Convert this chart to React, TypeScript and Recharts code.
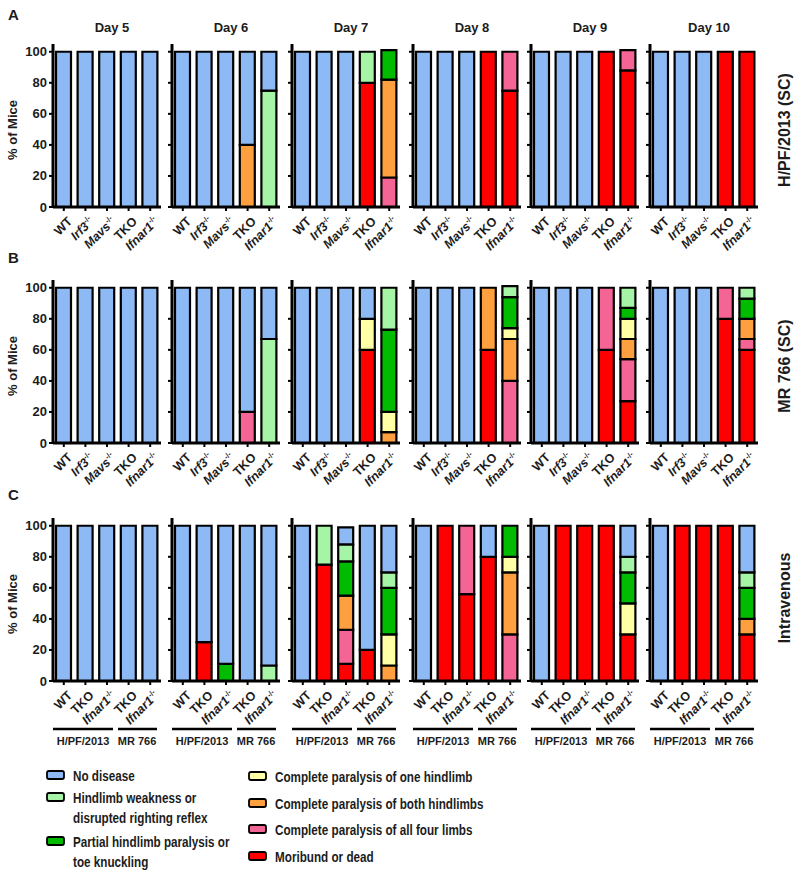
import { Bar, BarChart, XAxis, YAxis } from "recharts"

// stacked bottom -> top
const stageKeys = ["dead", "allFour", "bothHind", "oneHind", "partial", "weak", "none"]
const stageColors = ["#FF0000", "#F46494", "#FFA040", "#FFFFA6", "#00BB00", "#A6F5A6", "#8DB9F5"]

const days = ["Day 5", "Day 6", "Day 7", "Day 8", "Day 9", "Day 10"]
const rowNames = ["H/PF/2013 (SC)", "MR 766 (SC)", "Intravenous"]
const yTicks = [0, 20, 40, 60, 80, 100]

const scLabels = ["WT", "Irf3", "Mavs", "TKO", "Ifnar1"]
const scKnockout = [false, true, true, false, true]
const ivLabels = ["WT", "TKO", "Ifnar1", "TKO", "Ifnar1"]
const ivKnockout = [false, false, true, false, true]
const ivGroups = ["H/PF/2013", "MR 766"]

// each bar: [dead, allFour, bothHind, oneHind, partial, weak, none]
const ND = [0, 0, 0, 0, 0, 0, 100]
const DEAD = [100, 0, 0, 0, 0, 0, 0]

const hpfSC = [
    [ND, ND, ND, ND, ND],
    [ND, ND, ND, [0, 0, 40, 0, 0, 0, 60], [0, 0, 0, 0, 0, 75, 25]],
    [ND, ND, ND, [80, 0, 0, 0, 0, 20, 0], [0, 19, 63, 0, 19, 0, 0]],
    [ND, ND, ND, DEAD, [75, 25, 0, 0, 0, 0, 0]],
    [ND, ND, ND, DEAD, [88, 13, 0, 0, 0, 0, 0]],
    [ND, ND, ND, DEAD, DEAD],
]

const mrSC = [
    [ND, ND, ND, ND, ND],
    [ND, ND, ND, [0, 20, 0, 0, 0, 0, 80], [0, 0, 0, 0, 0, 67, 33]],
    [ND, ND, ND, [60, 0, 0, 20, 0, 0, 20], [0, 0, 7, 13, 53, 27, 0]],
    [ND, ND, ND, [60, 0, 40, 0, 0, 0, 0], [0, 40, 27, 7, 20, 7, 0]],
    [ND, ND, ND, [60, 40, 0, 0, 0, 0, 0], [27, 27, 13, 13, 7, 13, 0]],
    [ND, ND, ND, [80, 20, 0, 0, 0, 0, 0], [60, 7, 13, 0, 13, 7, 0]],
]

const intravenous = [
    [ND, ND, ND, ND, ND],
    [ND, [25, 0, 0, 0, 0, 0, 75], [0, 0, 0, 0, 11, 0, 89], ND, [0, 0, 0, 0, 0, 10, 90]],
    [ND, [75, 0, 0, 0, 0, 25, 0], [11, 22, 22, 0, 22, 11, 11], [20, 0, 0, 0, 0, 0, 80], [0, 0, 10, 20, 30, 10, 30]],
    [ND, DEAD, [56, 44, 0, 0, 0, 0, 0], [80, 0, 0, 0, 0, 0, 20], [0, 30, 40, 10, 20, 0, 0]],
    [ND, DEAD, DEAD, DEAD, [30, 0, 0, 20, 20, 10, 20]],
    [ND, DEAD, DEAD, DEAD, [30, 0, 10, 0, 20, 10, 30]],
]

const legendLeft = [
    { color: 6, lines: ["No disease"] },
    { color: 5, lines: ["Hindlimb weakness or", "disrupted righting reflex"] },
    { color: 4, lines: ["Partial hindlimb paralysis or", "toe knuckling"] },
]
const legendRight = [
    { color: 3, lines: ["Complete paralysis of one hindlimb"] },
    { color: 2, lines: ["Complete paralysis of both hindlimbs"] },
    { color: 1, lines: ["Complete paralysis of all four limbs"] },
    { color: 0, lines: ["Moribund or dead"] },
]

const FONT = "'Liberation Sans', Arial, Helvetica, sans-serif"
const TEXT = "#1c1c1c"
const PANEL_X = [53, 172, 292, 413, 531, 650]
const ROW_TOP = [40, 276, 514]
const YW = 40
const PW = 108
const PH = 163
const XH = 50

function XTick(props: any) {
    const { x, y, payload, labels, knockout } = props
    const i = Number(payload.value)
    return (
        <g>
            <text x={x} y={y} dy={13} textAnchor="end" transform={`rotate(-45 ${x} ${y})`}
                fontFamily={FONT} fontSize={12.5} fontWeight="bold" fill={TEXT}>
                <tspan fontStyle={knockout[i] ? "italic" : "normal"}>{labels[i]}</tspan>
                {knockout[i] && <tspan fontSize={7.5} dy={-5}>-/-</tspan>}
            </text>
        </g>
    )
}

function YTick(props: any) {
    const { x, y, payload, show } = props
    if (!show) return <g />
    return (
        <text x={x} y={y} dy={4.5} textAnchor="end" fontFamily={FONT} fontSize={13} fontWeight="bold" fill={TEXT}>
            {payload.value}
        </text>
    )
}

type PanelProps = {
    bars: number[][]
    labels: string[]
    knockout: boolean[]
    showY: boolean
    left: number
    top: number
}

function Panel({ bars, labels, knockout, showY, left, top }: PanelProps) {
    const data = bars.map((v, i) => {
        const row: { [key: string]: string | number } = { name: String(i) }
        stageKeys.forEach((k, j) => { row[k] = v[j] })
        return row
    })
    return (
        <div style={{ position: "absolute", left: left - YW, top }}>
            <BarChart width={YW + PW + 6} height={PH + 4 + XH} data={data}
                margin={{ top: 4, right: 6, bottom: 0, left: 0 }} barSize={15}>
                <XAxis dataKey="name" interval={0} height={XH} tickSize={4}
                    axisLine={{ stroke: "#000", strokeWidth: 3 }}
                    tickLine={{ stroke: "#000", strokeWidth: 2 }}
                    tick={<XTick labels={labels} knockout={knockout} />} />
                <YAxis type="number" domain={[0, 105]} ticks={yTicks} width={YW} tickSize={4}
                    axisLine={{ stroke: "#000", strokeWidth: 3 }}
                    tickLine={{ stroke: "#000", strokeWidth: 2 }}
                    tick={<YTick show={showY} />} />
                {stageKeys.map((k, j) => (
                    <Bar key={k} dataKey={k} stackId="s" fill={stageColors[j]} stroke="#000"
                        strokeWidth={2.2} isAnimationActive={false} />
                ))}
            </BarChart>
        </div>
    )
}

function App() {
    const rows = [hpfSC, mrSC, intravenous]
    const rowAxis = [[207, 130], [443, 366], [681, 604]]
    return (
        <div style={{ position: "absolute", left: 0, top: 0, width: 800, height: 876, background: "#fff", fontFamily: FONT, color: TEXT }}>
            {["A", "B", "C"].map((l, r) => (
                <div key={l} style={{ position: "absolute", left: 8, top: [6, 249, 486][r], fontSize: 15, fontWeight: "bold" }}>{l}</div>
            ))}
            {days.map((d, i) => (
                <div key={d} style={{ position: "absolute", left: PANEL_X[i] + 59 - 40, width: 80, top: 20, textAlign: "center", fontSize: 13, fontWeight: "bold" }}>{d}</div>
            ))}
            {rows.map((row, r) =>
                row.map((bars, d) => (
                    <Panel key={`${r}-${d}`} bars={bars}
                        labels={r === 2 ? ivLabels : scLabels}
                        knockout={r === 2 ? ivKnockout : scKnockout}
                        showY={d === 0} left={PANEL_X[d]} top={ROW_TOP[r]} />
                ))
            )}
            <svg width={800} height={876} style={{ position: "absolute", left: 0, top: 0, pointerEvents: "none" }}>
                {rowAxis.map(([, cy], r) => (
                    <g key={r}>
                        <text transform={`translate(17 ${cy}) rotate(-90)`} textAnchor="middle"
                            fontFamily={FONT} fontSize={13} fontWeight="bold" fill={TEXT}>% of Mice</text>
                        <text transform={`translate(790 ${[130, 366, 598][r]}) rotate(-90)`} textAnchor="middle"
                            fontFamily={FONT} fontSize={16} fontWeight="bold" fill={TEXT}>{rowNames[r]}</text>
                    </g>
                ))}
                {PANEL_X.map((px) => (
                    <g key={px}>
                        <line x1={px} x2={px + 60} y1={729} y2={729} stroke="#000" strokeWidth={2.5} />
                        <line x1={px + 65} x2={px + 104} y1={729} y2={729} stroke="#000" strokeWidth={2.5} />
                        <text x={px + 30} y={745} textAnchor="middle" fontFamily={FONT} fontSize={11} fontWeight="bold" fill={TEXT}>{ivGroups[0]}</text>
                        <text x={px + 84} y={745} textAnchor="middle" fontFamily={FONT} fontSize={11} fontWeight="bold" fill={TEXT}>{ivGroups[1]}</text>
                    </g>
                ))}
                {[{ items: legendLeft, sx: 47, tx: 73, ys: [775, 797, 841] }, { items: legendRight, sx: 249, tx: 275, ys: [776, 803, 829, 856] }].map((col, c) =>
                    col.items.map((it, k) => (
                        <g key={`${c}-${k}`}>
                            <rect x={col.sx} y={col.ys[k] - 4} width={17} height={8} rx={2}
                                fill={stageColors[it.color]} stroke="#000" strokeWidth={1.8} />
                            {it.lines.map((ln, li) => (
                                <text key={li} transform={`translate(${col.tx} ${col.ys[k] + li * 20 + 5.5}) scale(0.78 1)`}
                                    fontFamily={FONT} fontSize={15} fontWeight="bold" fill={TEXT}>{ln}</text>
                            ))}
                        </g>
                    ))
                )}
            </svg>
        </div>
    )
}

export default App
